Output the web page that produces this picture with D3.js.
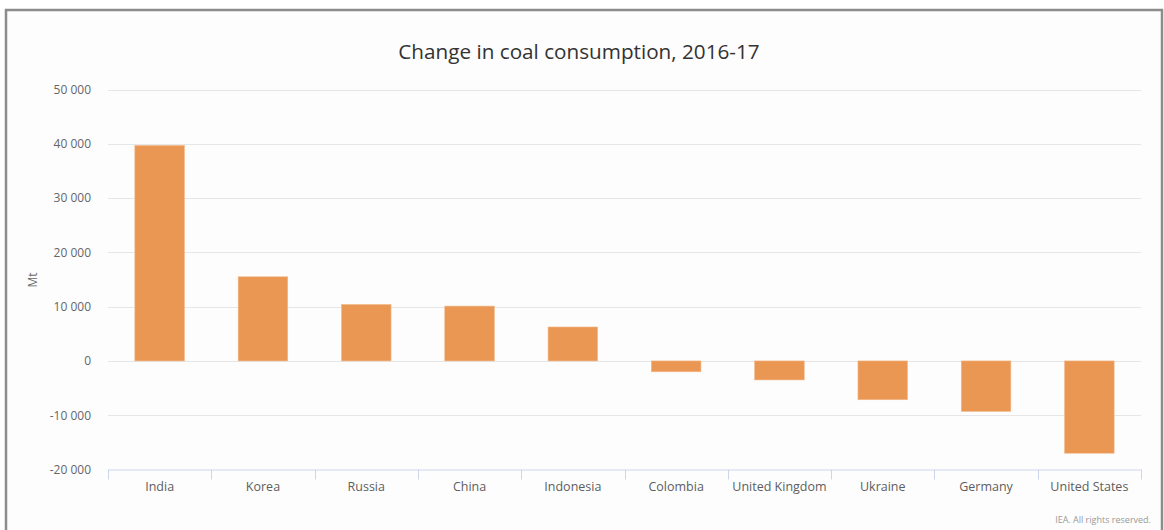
<!DOCTYPE html>
<html><head><meta charset="utf-8">
<script src="https://cdn.jsdelivr.net/npm/d3@7"></script>
<style>
html,body{margin:0;padding:0;background:#fff;}
svg{display:block;font-family:"Open Sans",sans-serif;}
</style></head>
<body><svg id="c" width="1164" height="530"></svg>
<script>
const categories = ["India","Korea","Russia","China","Indonesia","Colombia","United Kingdom","Ukraine","Germany","United States"];
const values = [39700, 15500, 10400, 10100, 6250, -2000, -3500, -7150, -9300, -17000];
const yTicks = [-20000,-10000,0,10000,20000,30000,40000,50000];
const title = "Change in coal consumption, 2016-17";
const yLabel = "Mt";
const credit = "IEA. All rights reserved.";

(function(){
const svg = d3.select("#c");
// frame
svg.append("rect").attr("x",6).attr("y",10).attr("width",1156).attr("height",530)
  .attr("fill","#fdfdfd").attr("stroke","#8c8c8c").attr("stroke-width",2.5);

const pL=108, pR=1141, pT=89.5, pB=469.5;
const x = d3.scaleBand().domain(categories).range([pL,pR]).padding(0);
const y = d3.scaleLinear().domain([-20000,50000]).range([pB,pT]);

svg.append("text").attr("x",579).attr("y",59).attr("text-anchor","middle")
  .attr("font-size",20.7).attr("fill","#333").text(title);

// grid
svg.append("g").selectAll("line").data(yTicks.filter(t=>t!==-20000)).join("line")
  .attr("x1",pL).attr("x2",pR).attr("y1",d=>Math.round(y(d))+0.5).attr("y2",d=>Math.round(y(d))+0.5)
  .attr("stroke","#e6e6e6").attr("stroke-width",1);

// y axis labels
const fmt = d => d3.format(",")(d).replace(/,/g," ").replace("\u2212","-");
const yAxis = d3.axisLeft(y).tickValues(yTicks).tickSize(0).tickPadding(0).tickFormat(fmt);
const ya = svg.append("g").attr("transform",`translate(${91},0)`).call(yAxis);
ya.select(".domain").remove();
ya.selectAll("text").attr("font-size",12).attr("fill","#666").attr("font-family","Open Sans, sans-serif").attr("dy","0.32em");

svg.append("text").attr("transform",`translate(37,${280}) rotate(-90)`).attr("text-anchor","middle")
  .attr("font-size",12).attr("fill","#666").text(yLabel);

// bars
const bw = x.bandwidth()*0.48;
svg.append("g").selectAll("rect").data(values).join("rect")
  .attr("x",(d,i)=>x(categories[i])+(x.bandwidth()-bw)/2)
  .attr("width",bw)
  .attr("y",d=>y(Math.max(0,d)))
  .attr("height",d=>Math.abs(y(d)-y(0)))
  .attr("fill","#ea9753").attr("stroke","#f2b98a").attr("stroke-width",0.6);

// x axis
const xAxis = d3.axisBottom(x).tickSize(0).tickPadding(13);
const xa = svg.append("g").attr("transform",`translate(0,${pB})`).call(xAxis);
xa.select(".domain").attr("stroke","#ccd6eb").attr("d",`M${pL},0.5H${pR}`);
xa.selectAll("text").attr("font-size",12.5).attr("fill","#5e5e5e").attr("font-family","Open Sans, sans-serif");
const bounds = categories.map(c=>x(c)).concat([pR]);
svg.append("g").selectAll("line").data(bounds).join("line")
  .attr("x1",d=>Math.round(d)+0.5).attr("x2",d=>Math.round(d)+0.5)
  .attr("y1",pB).attr("y2",pB+10).attr("stroke","#ccd6eb").attr("stroke-width",1);

svg.append("text").attr("x",1151).attr("y",523).attr("text-anchor","end")
  .attr("font-size",9).attr("fill","#999").text(credit);
})();
</script></body></html>
